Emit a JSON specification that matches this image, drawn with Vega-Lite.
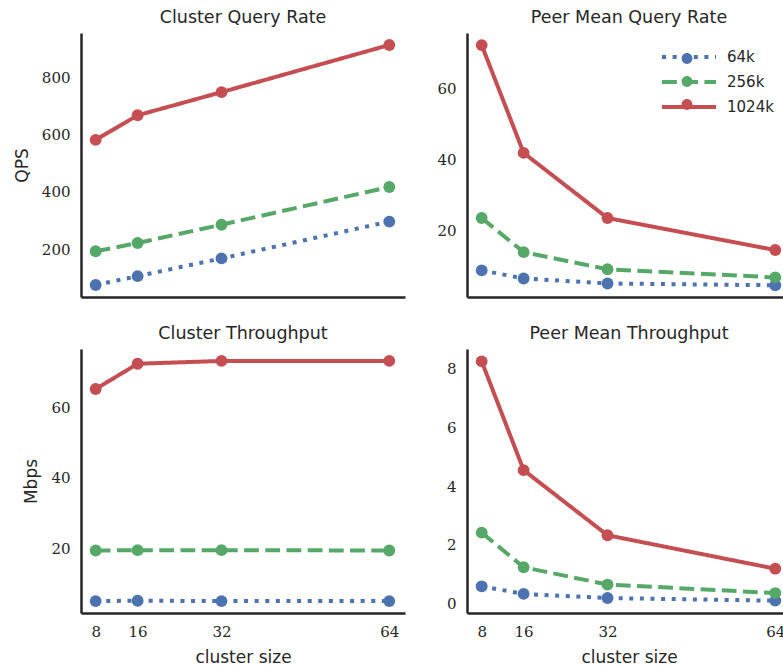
{
  "$schema": "https://vega.github.io/schema/vega-lite/v6.json",
  "padding": {"left": 13, "top": 8, "right": 0, "bottom": 0},
  "background": "white",
  "datasets": {
    "perf": [
      {"panel": "cqr", "size": 8, "block": "64k", "value": 74},
      {"panel": "cqr", "size": 16, "block": "64k", "value": 105},
      {"panel": "cqr", "size": 32, "block": "64k", "value": 167},
      {"panel": "cqr", "size": 64, "block": "64k", "value": 296},
      {"panel": "cqr", "size": 8, "block": "256k", "value": 192},
      {"panel": "cqr", "size": 16, "block": "256k", "value": 221},
      {"panel": "cqr", "size": 32, "block": "256k", "value": 285},
      {"panel": "cqr", "size": 64, "block": "256k", "value": 417},
      {"panel": "cqr", "size": 8, "block": "1024k", "value": 582},
      {"panel": "cqr", "size": 16, "block": "1024k", "value": 668},
      {"panel": "cqr", "size": 32, "block": "1024k", "value": 749},
      {"panel": "cqr", "size": 64, "block": "1024k", "value": 914},
      {"panel": "pqr", "size": 8, "block": "64k", "value": 8.9},
      {"panel": "pqr", "size": 16, "block": "64k", "value": 6.6},
      {"panel": "pqr", "size": 32, "block": "64k", "value": 5.2},
      {"panel": "pqr", "size": 64, "block": "64k", "value": 4.7},
      {"panel": "pqr", "size": 8, "block": "256k", "value": 23.6},
      {"panel": "pqr", "size": 16, "block": "256k", "value": 14.0},
      {"panel": "pqr", "size": 32, "block": "256k", "value": 9.2},
      {"panel": "pqr", "size": 64, "block": "256k", "value": 6.9},
      {"panel": "pqr", "size": 8, "block": "1024k", "value": 72.2},
      {"panel": "pqr", "size": 16, "block": "1024k", "value": 41.9},
      {"panel": "pqr", "size": 32, "block": "1024k", "value": 23.6},
      {"panel": "pqr", "size": 64, "block": "1024k", "value": 14.6},
      {"panel": "ct", "size": 8, "block": "64k", "value": 4.9},
      {"panel": "ct", "size": 16, "block": "64k", "value": 5.0},
      {"panel": "ct", "size": 32, "block": "64k", "value": 4.9},
      {"panel": "ct", "size": 64, "block": "64k", "value": 4.9},
      {"panel": "ct", "size": 8, "block": "256k", "value": 19.3},
      {"panel": "ct", "size": 16, "block": "256k", "value": 19.4},
      {"panel": "ct", "size": 32, "block": "256k", "value": 19.4},
      {"panel": "ct", "size": 64, "block": "256k", "value": 19.3},
      {"panel": "ct", "size": 8, "block": "1024k", "value": 65.3},
      {"panel": "ct", "size": 16, "block": "1024k", "value": 72.5},
      {"panel": "ct", "size": 32, "block": "1024k", "value": 73.3},
      {"panel": "ct", "size": 64, "block": "1024k", "value": 73.3},
      {"panel": "pt", "size": 8, "block": "64k", "value": 0.59},
      {"panel": "pt", "size": 16, "block": "64k", "value": 0.33},
      {"panel": "pt", "size": 32, "block": "64k", "value": 0.19},
      {"panel": "pt", "size": 64, "block": "64k", "value": 0.10},
      {"panel": "pt", "size": 8, "block": "256k", "value": 2.42},
      {"panel": "pt", "size": 16, "block": "256k", "value": 1.24},
      {"panel": "pt", "size": 32, "block": "256k", "value": 0.65},
      {"panel": "pt", "size": 64, "block": "256k", "value": 0.36},
      {"panel": "pt", "size": 8, "block": "1024k", "value": 8.26},
      {"panel": "pt", "size": 16, "block": "1024k", "value": 4.55},
      {"panel": "pt", "size": 32, "block": "1024k", "value": 2.33},
      {"panel": "pt", "size": 64, "block": "1024k", "value": 1.19}
    ]
  },
  "data": {"name": "perf"},
  "columns": 2,
  "spacing": {"row": 27, "column": 31},
  "resolve": {
    "scale": {"x": "independent", "y": "independent", "color": "shared", "strokeDash": "shared"},
    "legend": {"color": "independent", "strokeDash": "independent"}
  },
  "concat": [
    {
      "title": "Cluster Query Rate",
      "width": 324, "height": 264,
      "transform": [{"filter": "datum.panel === 'cqr'"}],
      "mark": {"type": "line", "strokeWidth": 4, "strokeCap": "butt", "point": {"filled": true, "size": 140, "opacity": 1}},
      "encoding": {
        "x": {"field": "size", "type": "quantitative", "scale": {"domain": [5.2, 67], "nice": false, "zero": false}, "axis": {"labels": false, "title": null}},
        "y": {"field": "value", "type": "quantitative", "scale": {"domain": [32, 956], "nice": false, "zero": false}, "axis": {"values": [200, 400, 600, 800], "title": "QPS"}},
        "color": {"field": "block", "type": "nominal", "scale": {"domain": ["64k", "256k", "1024k"], "range": ["#4C72B0", "#55A868", "#C44E52"]}, "legend": null},
        "strokeDash": {"field": "block", "type": "nominal", "sort": ["64k", "256k", "1024k"], "scale": {"range": [[4, 6.6], [14.8, 6.4], [1, 0]]}, "legend": null}
      }
    },
    {
      "title": "Peer Mean Query Rate",
      "width": 324, "height": 264,
      "transform": [{"filter": "datum.panel === 'pqr'"}],
      "mark": {"type": "line", "strokeWidth": 4, "strokeCap": "butt", "point": {"filled": true, "size": 140, "opacity": 1}},
      "encoding": {
        "x": {"field": "size", "type": "quantitative", "scale": {"domain": [5.2, 67], "nice": false, "zero": false}, "axis": {"labels": false, "title": null}},
        "y": {"field": "value", "type": "quantitative", "scale": {"domain": [1.4, 75.6], "nice": false, "zero": false}, "axis": {"values": [20, 40, 60], "title": null}},
        "color": {"field": "block", "type": "nominal", "scale": {"domain": ["64k", "256k", "1024k"], "range": ["#4C72B0", "#55A868", "#C44E52"]},
          "legend": {
            "title": null, "orient": "none", "legendX": 193, "legendY": 13.5,
            "symbolType": "M-1,0L3.5,0M0.8,0A0.45,0.45 0 1,0 1.7,0A0.45,0.45 0 1,0 0.8,0Z",
            "symbolSize": 576, "symbolStrokeWidth": 0,
            "labelFont": "DejaVu Sans", "labelFontSize": 15, "labelColor": "#262626", "labelOffset": 39, "rowPadding": 3, "labelOpacity": 0, "labelExpr": "''",
            "encode": {"symbols": {"update": {"fill": [{"test": "datum.value === '64k'", "value": "#4C72B0"}, {"test": "datum.value === '256k'", "value": "#55A868"}, {"value": "#C44E52"}], "fillOpacity": {"value": 1}, "strokeWidth": {"value": 0}}}}
          }},
        "strokeDash": {"field": "block", "type": "nominal", "sort": ["64k", "256k", "1024k"], "scale": {"range": [[4, 6.6], [14.8, 6.4], [1, 0]]},
          "legend": {
            "title": null, "orient": "none", "legendX": 193, "legendY": 10,
            "symbolType": "M-1,0L3.5,0",
            "symbolSize": 576, "symbolStrokeWidth": 4,
            "labelFont": "DejaVu Sans", "labelFontSize": 15, "labelColor": "#262626", "labelOffset": 39, "rowPadding": 3,
            "encode": {"symbols": {"update": {"stroke": [{"test": "datum.value === '64k'", "value": "#4C72B0"}, {"test": "datum.value === '256k'", "value": "#55A868"}, {"value": "#C44E52"}], "strokeOpacity": {"value": 1}, "fill": {"value": "transparent"}}}}
          }}
      }
    },
    {
      "title": "Cluster Throughput",
      "width": 324, "height": 264,
      "transform": [{"filter": "datum.panel === 'ct'"}],
      "mark": {"type": "line", "strokeWidth": 4, "strokeCap": "butt", "point": {"filled": true, "size": 140, "opacity": 1}},
      "encoding": {
        "x": {"field": "size", "type": "quantitative", "scale": {"domain": [5.2, 67], "nice": false, "zero": false}, "axis": {"values": [8, 16, 32, 64], "title": "cluster size"}},
        "y": {"field": "value", "type": "quantitative", "scale": {"domain": [1.5, 76.7], "nice": false, "zero": false}, "axis": {"values": [20, 40, 60], "title": "Mbps"}},
        "color": {"field": "block", "type": "nominal", "scale": {"domain": ["64k", "256k", "1024k"], "range": ["#4C72B0", "#55A868", "#C44E52"]}, "legend": null},
        "strokeDash": {"field": "block", "type": "nominal", "sort": ["64k", "256k", "1024k"], "scale": {"range": [[4, 6.6], [14.8, 6.4], [1, 0]]}, "legend": null}
      }
    },
    {
      "title": "Peer Mean Throughput",
      "width": 324, "height": 264,
      "transform": [{"filter": "datum.panel === 'pt'"}],
      "mark": {"type": "line", "strokeWidth": 4, "strokeCap": "butt", "point": {"filled": true, "size": 140, "opacity": 1}},
      "encoding": {
        "x": {"field": "size", "type": "quantitative", "scale": {"domain": [5.2, 67], "nice": false, "zero": false}, "axis": {"values": [8, 16, 32, 64], "title": "cluster size"}},
        "y": {"field": "value", "type": "quantitative", "scale": {"domain": [-0.32, 8.68], "nice": false, "zero": false}, "axis": {"values": [0, 2, 4, 6, 8], "title": null}},
        "color": {"field": "block", "type": "nominal", "scale": {"domain": ["64k", "256k", "1024k"], "range": ["#4C72B0", "#55A868", "#C44E52"]}, "legend": null},
        "strokeDash": {"field": "block", "type": "nominal", "sort": ["64k", "256k", "1024k"], "scale": {"range": [[4, 6.6], [14.8, 6.4], [1, 0]]}, "legend": null}
      }
    }
  ],
  "config": {
    "view": {"stroke": null},
    "axis": {
      "domainColor": "#262626", "domainWidth": 2.5, "ticks": false, "grid": false,
      "labelFont": "DejaVu Serif", "labelFontSize": 15, "labelColor": "#262626", "labelPadding": 11,
      "titleFont": "DejaVu Sans", "titleFontSize": 17, "titleFontWeight": "normal", "titleColor": "#262626", "titlePadding": 10
    },
    "title": {"font": "DejaVu Sans", "fontSize": 17.5, "fontWeight": "normal", "color": "#262626", "offset": 7}
  }
}
